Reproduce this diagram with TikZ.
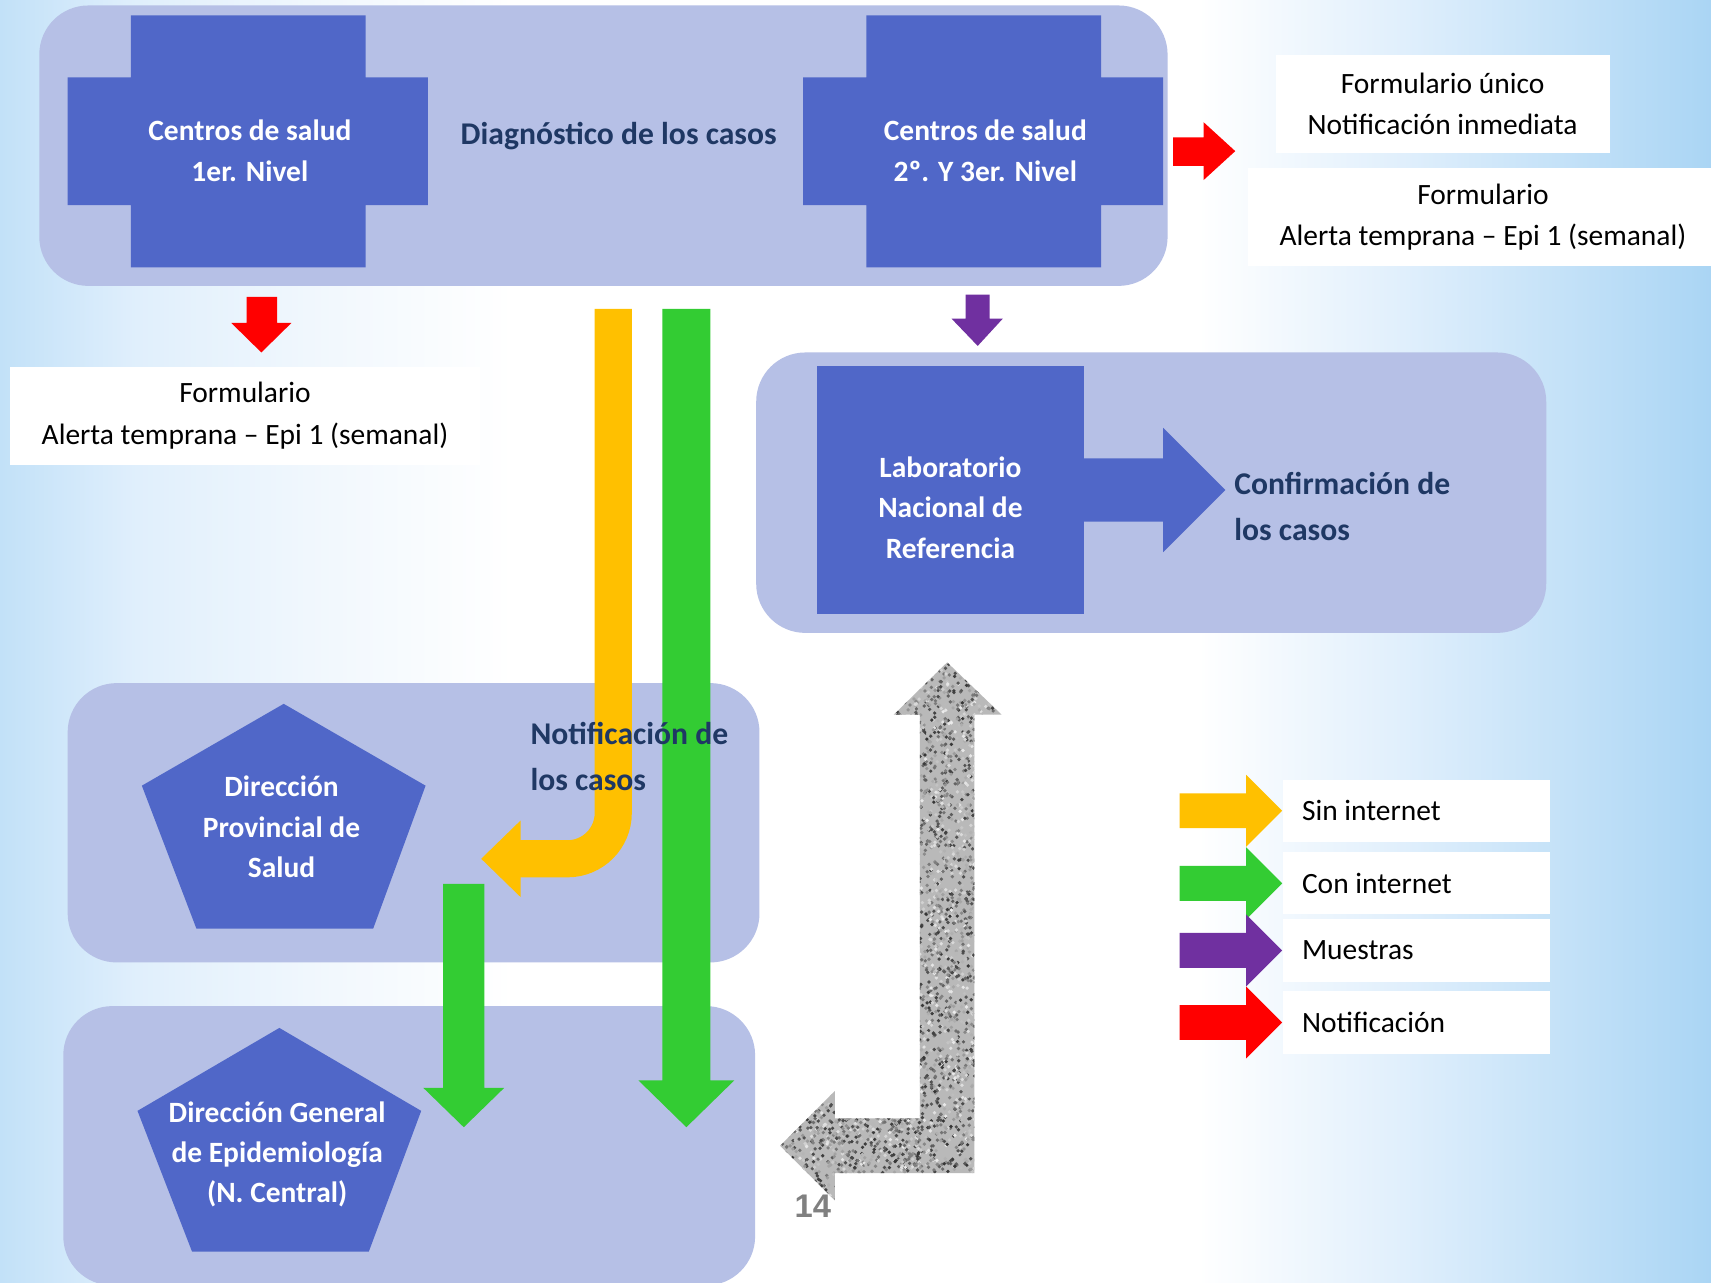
\documentclass[tikz,border=0pt]{standalone}
\usepackage{fontspec}
\setmainfont{Carlito}
\newfontfamily\pagenumfont{Liberation Sans}
\usetikzlibrary{fadings}

\definecolor{panelblue}{RGB}{182,192,230}
\definecolor{blockblue}{RGB}{80,103,200}
\definecolor{navy}{RGB}{31,56,100}
\definecolor{flowyellow}{RGB}{255,192,0}
\definecolor{flowgreen}{RGB}{51,204,51}
\definecolor{flowpurple}{RGB}{112,48,160}
\definecolor{flowred}{RGB}{255,0,0}
\definecolor{bgleft}{RGB}{194,225,248}
\definecolor{bgsoft}{RGB}{224,239,252}
\definecolor{bgpale}{RGB}{240,247,253}
\definecolor{bgright}{RGB}{170,213,244}
\pgfdeclarehorizontalshading{bgshade}{100bp}{color(0bp)=(bgleft); color(25bp)=(bgleft); color(29bp)=(bgsoft);
  color(34bp)=(bgpale); color(40bp)=(white); color(60bp)=(white); color(66bp)=(bgsoft); color(75bp)=(bgright);
  color(100bp)=(bgright)}
\tikzfading[name=bandfade,top color=transparent!100,middle color=transparent!40,bottom color=transparent!100]

\begin{document}
\begin{tikzpicture}
  [
    x=1pt, y=-1pt,
    inner sep=0mm,
    panel/.style={rectangle,rounded corners=45pt,fill=panelblue},
    card/.style={rectangle,fill=white},
    block/.style={fill=blockblue},
    intext/.style={text=white,align=center,font=\bfseries\fontsize{27}{37}\selectfont},
    caption/.style={text=navy,align=left,font=\bfseries\fontsize{29}{42}\selectfont},
    formtext/.style={text=black,align=center,font=\fontsize{27}{38}\selectfont},
    keytext/.style={text=black,font=\fontsize{27}{37}\selectfont},
  ]
  \useasboundingbox (0,0) rectangle (1568,1175);
  \shade[shading=bgshade] (0,0) rectangle (1568,1175);
  \fill[bgleft,path fading=bandfade] (0,780) rectangle (1568,940);

  % panels
  \node (diagpanel) at (553,133.5) [panel,minimum width=1034pt,minimum height=257pt] {};
  \node (labpanel) at (1055,451.5) [panel,minimum width=724pt,minimum height=257pt] {};
  \node (provpanel) at (379,754) [panel,minimum width=634pt,minimum height=256pt] {};
  \node (genpanel) at (375,1050) [panel,minimum width=634pt,minimum height=256pt] {};

  % health centres
  \fill[block] (120,14) -- (335,14) -- (335,71) -- (392,71) -- (392,188) -- (335,188) -- (335,245)
    -- (120,245) -- (120,188) -- (62,188) -- (62,71) -- (120,71) -- cycle;
  \fill[block] (794,14) -- (1009,14) -- (1009,71) -- (1066,71) -- (1066,188) -- (1009,188) -- (1009,245)
    -- (794,245) -- (794,188) -- (736,188) -- (736,71) -- (794,71) -- cycle;
  \node (centro1) at (229,138) [intext] {Centros de salud\\1er. Nivel};
  \node (centro2) at (903,138) [intext] {Centros de salud\\2º. Y 3er. Nivel};
  \node (diag) at (567,125) [caption] {Diagnóstico de los casos};

  % forms
  \node (unico) at (1322,95) [card,minimum width=306pt,minimum height=90pt,formtext] {Formulario único\\Notificación inmediata};
  \node (alerta2) at (1359,199) [card,minimum width=430pt,minimum height=90pt,formtext] {Formulario\\Alerta temprana – Epi 1 (semanal)};
  \node (alerta1) at (224.5,381) [card,minimum width=431pt,minimum height=90pt,formtext] {Formulario\\Alerta temprana – Epi 1 (semanal)};

  \fill[flowred] (1075,126) -- (1103,126) -- (1103,112) -- (1132,138.5) -- (1103,165) -- (1103,152) -- (1075,152) -- cycle;
  \fill[flowred] (226,272) -- (254,272) -- (254,296) -- (267,296) -- (239.5,323) -- (212,296) -- (226,296) -- cycle;
  \fill[flowpurple] (885,270) -- (907,270) -- (907,292) -- (919,292) -- (896,317) -- (872,292) -- (885,292) -- cycle;

  % laboratory
  \node (lab) at (871,449) [block,minimum width=244pt,minimum height=228pt] {};
  \node (labtext) at (871,465) [intext] {Laboratorio\\Nacional de\\Referencia};
  \fill[block] (993,420) -- (1066,420) -- (1066,392) -- (1123,449) -- (1066,506) -- (1066,478) -- (993,478) -- cycle;
  \node (confirm) at (1131,464) [caption,anchor=west] {Confirmación de\\los casos};

  % directions
  \fill[block] (260,645) -- (390,720) -- (342,851) -- (180,851) -- (130,720) -- cycle;
  \node (prov) at (258,758) [intext] {Dirección\\Provincial de\\Salud};
  \fill[block] (256,942) -- (386,1018) -- (338,1147) -- (176,1147) -- (126,1018) -- cycle;
  \node (gen) at (254,1058) [intext] {Dirección General\\de Epidemiología\\(N. Central)};

  % notification flows
  \draw[flowyellow,line width=34pt,rounded corners=42pt] (562,283) -- (562,787) -- (476,787);
  \fill[flowyellow] (477,752) -- (441,787) -- (477,822) -- cycle;
  \fill[flowgreen] (607,283) -- (651,283) -- (651,990) -- (673,990) -- (629,1033) -- (585,990) -- (607,990) -- cycle;
  \fill[flowgreen] (406,810) -- (444,810) -- (444,997) -- (462,997) -- (425,1033) -- (388,997) -- (406,997) -- cycle;
  \node (notif) at (486,693) [caption,anchor=west] {Notificación de\\los casos};

  % grey return arrow
  \begin{scope}
    \clip (868,607) -- (918,655) -- (893,655) -- (893,1075) -- (765,1075) -- (765,1100) -- (715,1050)
      -- (765,1000) -- (765,1025) -- (843,1025) -- (843,655) -- (819,655) -- cycle;
    \fill[gray!55] (700,600) rectangle (930,1110);
    \pgfmathsetseed{14}
    \foreach \i in {1,...,2600}{
      \pgfmathsetmacro\px{819+99*rnd}
      \pgfmathsetmacro\py{607+468*rnd}
      \pgfmathtruncatemacro\g{8+72*rnd}
      \fill[black!\g] (\px,\py) circle[radius=1.7pt];
    }
    \foreach \i in {1,...,800}{
      \pgfmathsetmacro\px{715+128*rnd}
      \pgfmathsetmacro\py{1000+100*rnd}
      \pgfmathtruncatemacro\g{8+72*rnd}
      \fill[black!\g] (\px,\py) circle[radius=1.7pt];
    }
  \end{scope}
  \node (slide) at (745,1105) [text=gray,font=\pagenumfont\bfseries\fontsize{30}{30}\selectfont] {14};

  % legend
  \foreach \c/\y/\t [count=\i] in {flowyellow/743/Sin internet, flowgreen/809.5/Con internet,
      flowpurple/871/Muestras, flowred/937/Notificación}{
    \fill[\c] (1081,\y-16) -- (1142,\y-16) -- (1142,\y-33) -- (1175,\y) -- (1142,\y+33) -- (1142,\y+16) -- (1081,\y+16) -- cycle;
    \node (keybox\i) at (1298,\y) [card,minimum width=244pt,minimum height=57pt] {};
    \node (key\i) at (1193,\y) [keytext,anchor=west] {\t};
  }
\end{tikzpicture}
\end{document}
